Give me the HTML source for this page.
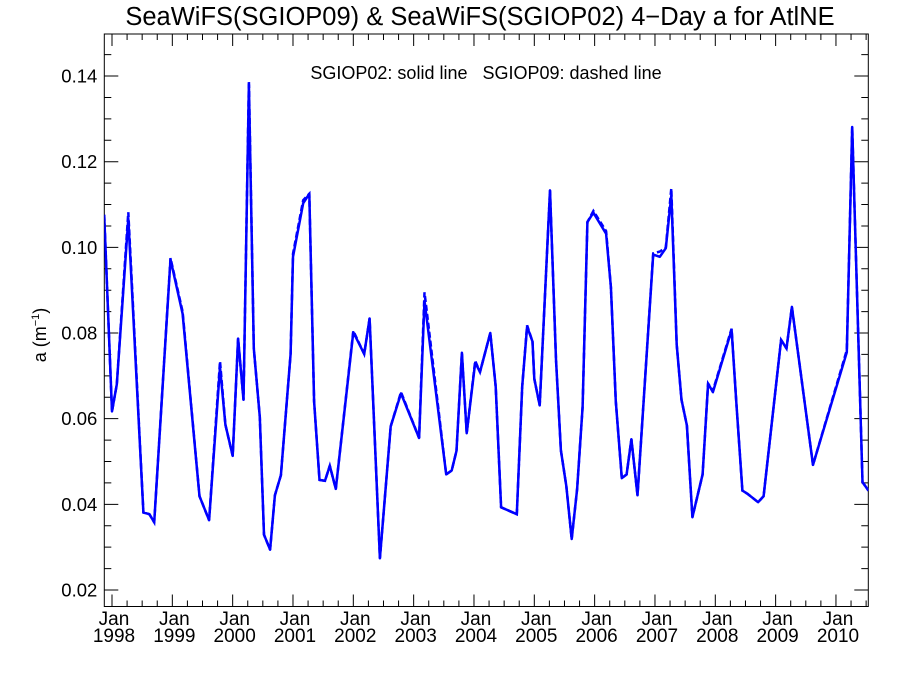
<!DOCTYPE html>
<html><head><meta charset="utf-8"><style>
body{margin:0;background:#fff}
svg{display:block;font-family:"Liberation Sans",sans-serif}
</style></head><body>
<svg id="chart" width="900" height="675">
<text x="480" y="25" text-anchor="middle" font-size="25.5">SeaWiFS(SGIOP09) &amp; SeaWiFS(SGIOP02) 4−Day a for AtlNE</text>
<text x="486" y="79" text-anchor="middle" font-size="18" style="white-space:pre">SGIOP02: solid line   SGIOP09: dashed line</text>
<text transform="translate(46,335) rotate(-90)" text-anchor="middle" font-size="18">a (m<tspan font-size="11" dy="-7">−1</tspan><tspan dy="7">)</tspan></text>
<g id="axes"></g><g id="series"></g>
</svg>
<script>
const times=[1997.87,1998.0,1998.08,1998.27,1998.52,1998.62,1998.70,1998.97,1999.17,1999.45,1999.61,1999.79,1999.88,2000.0,2000.09,2000.18,2000.27,2000.35,2000.45,2000.52,2000.62,2000.70,2000.80,2000.96,2001.0,2001.17,2001.27,2001.35,2001.44,2001.53,2001.61,2001.71,2002.0,2002.18,2002.27,2002.44,2002.62,2002.79,2003.09,2003.18,2003.54,2003.63,2003.71,2003.80,2003.88,2004.02,2004.10,2004.27,2004.36,2004.45,2004.71,2004.80,2004.88,2004.97,2005.0,2005.09,2005.26,2005.36,2005.44,2005.53,2005.62,2005.71,2005.80,2005.88,2005.98,2006.19,2006.27,2006.35,2006.45,2006.53,2006.61,2006.71,2006.97,2007.08,2007.18,2007.27,2007.36,2007.44,2007.53,2007.62,2007.79,2007.88,2007.96,2008.27,2008.35,2008.45,2008.54,2008.71,2008.80,2009.09,2009.18,2009.27,2009.62,2010.18,2010.27,2010.44,2010.54];
const sgiop02=[0.1076,0.0617,0.0680,0.1067,0.0381,0.0377,0.0358,0.0972,0.0845,0.0419,0.0363,0.0720,0.0586,0.0513,0.0787,0.0644,0.1380,0.0764,0.0604,0.0329,0.0294,0.0421,0.0468,0.0751,0.0978,0.1103,0.1125,0.0640,0.0457,0.0455,0.0490,0.0436,0.0802,0.0751,0.0834,0.0274,0.0582,0.0659,0.0555,0.0875,0.0470,0.0479,0.0525,0.0754,0.0566,0.0731,0.0709,0.0800,0.0675,0.0393,0.0377,0.0675,0.0815,0.0780,0.0693,0.0631,0.1133,0.0738,0.0526,0.0443,0.0319,0.0435,0.0627,0.1059,0.1081,0.1032,0.0907,0.0640,0.0461,0.0470,0.0552,0.0421,0.0983,0.0978,0.0998,0.1121,0.0773,0.0644,0.0584,0.0370,0.0470,0.0682,0.0662,0.0807,0.0635,0.0432,0.0424,0.0405,0.0419,0.0784,0.0764,0.0861,0.0492,0.0755,0.1281,0.0452,0.0432];
const sgiop09=[0.1076,0.0617,0.0680,0.1082,0.0381,0.0377,0.0358,0.0975,0.0850,0.0419,0.0363,0.0734,0.0586,0.0513,0.0787,0.0644,0.1389,0.0764,0.0604,0.0329,0.0294,0.0421,0.0468,0.0751,0.0985,0.1110,0.1125,0.0640,0.0457,0.0455,0.0490,0.0436,0.0805,0.0751,0.0834,0.0274,0.0582,0.0662,0.0555,0.0895,0.0470,0.0479,0.0525,0.0754,0.0566,0.0735,0.0709,0.0800,0.0675,0.0393,0.0377,0.0675,0.0818,0.0780,0.0693,0.0631,0.1133,0.0738,0.0526,0.0443,0.0319,0.0435,0.0627,0.1059,0.1085,0.1038,0.0907,0.0640,0.0461,0.0470,0.0552,0.0421,0.0986,0.0990,0.1000,0.1138,0.0773,0.0644,0.0584,0.0370,0.0470,0.0682,0.0665,0.0810,0.0635,0.0432,0.0424,0.0405,0.0419,0.0784,0.0764,0.0861,0.0492,0.0760,0.1281,0.0452,0.0432];
const yTicks=[0.02,0.04,0.06,0.08,0.10,0.12,0.14];
const yTickLabels=["0.02","0.04","0.06","0.08","0.10","0.12","0.14"];
const xYears=[1998,1999,2000,2001,2002,2003,2004,2005,2006,2007,2008,2009,2010];

const L=104.3,R=868.3,T=34,B=606.5;
const x0=1998, xpx=60.33, x0px=112;
const X=t=>x0px+(t-x0)*xpx;
const Y=v=>590-(v-0.02)*4283;
const NS="http://www.w3.org/2000/svg";
const ax=document.getElementById('axes'), sg=document.getElementById('series');
function mk(tag,attrs,parent){const e=document.createElementNS(NS,tag);for(const k in attrs)e.setAttribute(k,attrs[k]);parent.appendChild(e);return e;}
const frame=mk('rect',{x:L,y:T,width:R-L,height:B-T,fill:'none',stroke:'#000','stroke-width':1},ax);


for(let k=4;k<=30;k++){
  const v=k*0.005;const y=Y(v);if(y<T||y>B)continue;
  const major=(k%4===0);
  const len=major?14:7;
  const tk=mk('path',{d:`M${L},${y}h${len}M${R},${y}h${-len}`,stroke:'#000','stroke-width':1},ax);
  
  
}
yTicks.forEach((v,i)=>{
  const t=mk('text',{x:L-7,y:Y(v)+6.5,'text-anchor':'end','font-size':18.5},ax);
  t.textContent=yTickLabels[i];
  
  
});
for(let k=-1;k<=51;k++){
  const q=1998+k*0.25;const x=X(q);if(x<L||x>R)continue;
  const major=(k%4===0);
  const len=major?12:6;
  const tk=mk('path',{d:`M${x},${B}v${-len}M${x},${T}v${len}`,stroke:'#000','stroke-width':1},ax);
  
  
}
xYears.forEach(yr=>{
  const x=X(yr)+2;
  const t1=mk('text',{x:x,y:625,'text-anchor':'middle','font-size':19},ax);
  t1.textContent='Jan';
  
  
  const t2=mk('text',{x:x,y:642,'text-anchor':'middle','font-size':19},ax);
  t2.textContent=String(yr);
  
  
});
function pts(vals){return times.map((t,i)=>X(t).toFixed(1)+','+Y(vals[i]).toFixed(1)).join(' ');}
const cp=mk('clipPath',{id:'clip'},sg);mk('rect',{x:L,y:T,width:R-L,height:B-T},cp);
const d=mk('polyline',{points:pts(sgiop09),fill:'none',stroke:'#0000ff','stroke-width':2.5,'stroke-dasharray':'6,3','clip-path':'url(#clip)'},sg);


const s=mk('polyline',{points:pts(sgiop02),fill:'none',stroke:'#0000ff','stroke-width':2.5,'stroke-linejoin':'round','clip-path':'url(#clip)'},sg);


</script>
</body></html>
